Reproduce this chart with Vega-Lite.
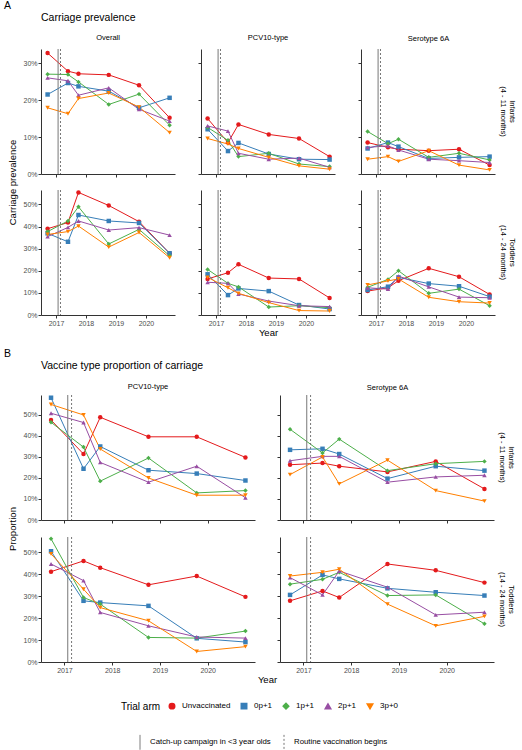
{
"$schema":"https://vega.github.io/schema/vega-lite/v6.json",
"background":"white",
"padding":{"left":3,"top":1,"right":2,"bottom":2},
"datasets":{
"ev":[{"ev":"Catch-up campaign in <3 year olds","t":2017.07},{"ev":"Routine vaccination begins","t":2017.15}],
"prev":[
{"p":"O","a":"I","g":"Unvaccinated","t":2016.72,"v":32.7},{"p":"O","a":"I","g":"Unvaccinated","t":2017.4,"v":27.8},{"p":"O","a":"I","g":"Unvaccinated","t":2017.75,"v":27.1},{"p":"O","a":"I","g":"Unvaccinated","t":2018.76,"v":26.8},{"p":"O","a":"I","g":"Unvaccinated","t":2019.77,"v":24.0},{"p":"O","a":"I","g":"Unvaccinated","t":2020.79,"v":15.2},
{"p":"O","a":"I","g":"0p+1","t":2016.72,"v":21.5},{"p":"O","a":"I","g":"0p+1","t":2017.4,"v":24.6},{"p":"O","a":"I","g":"0p+1","t":2017.75,"v":23.7},{"p":"O","a":"I","g":"0p+1","t":2018.76,"v":22.4},{"p":"O","a":"I","g":"0p+1","t":2019.77,"v":17.9},{"p":"O","a":"I","g":"0p+1","t":2020.79,"v":20.6},
{"p":"O","a":"I","g":"1p+1","t":2016.72,"v":27.0},{"p":"O","a":"I","g":"1p+1","t":2017.4,"v":26.9},{"p":"O","a":"I","g":"1p+1","t":2017.75,"v":24.9},{"p":"O","a":"I","g":"1p+1","t":2018.76,"v":18.8},{"p":"O","a":"I","g":"1p+1","t":2019.77,"v":21.6},{"p":"O","a":"I","g":"1p+1","t":2020.79,"v":13.2},
{"p":"O","a":"I","g":"2p+1","t":2016.72,"v":26.0},{"p":"O","a":"I","g":"2p+1","t":2017.4,"v":25.2},{"p":"O","a":"I","g":"2p+1","t":2017.75,"v":21.3},{"p":"O","a":"I","g":"2p+1","t":2018.76,"v":23.3},{"p":"O","a":"I","g":"2p+1","t":2019.77,"v":17.5},{"p":"O","a":"I","g":"2p+1","t":2020.79,"v":14.3},
{"p":"O","a":"I","g":"3p+0","t":2016.72,"v":17.9},{"p":"O","a":"I","g":"3p+0","t":2017.4,"v":16.3},{"p":"O","a":"I","g":"3p+0","t":2017.75,"v":20.4},{"p":"O","a":"I","g":"3p+0","t":2018.76,"v":21.9},{"p":"O","a":"I","g":"3p+0","t":2019.77,"v":18.1},{"p":"O","a":"I","g":"3p+0","t":2020.79,"v":11.2},
{"p":"P","a":"I","g":"Unvaccinated","t":2016.72,"v":15.0},{"p":"P","a":"I","g":"Unvaccinated","t":2017.4,"v":8.5},{"p":"P","a":"I","g":"Unvaccinated","t":2017.75,"v":13.4},{"p":"P","a":"I","g":"Unvaccinated","t":2018.76,"v":10.7},{"p":"P","a":"I","g":"Unvaccinated","t":2019.77,"v":9.6},{"p":"P","a":"I","g":"Unvaccinated","t":2020.79,"v":4.7},
{"p":"P","a":"I","g":"0p+1","t":2016.72,"v":12.1},{"p":"P","a":"I","g":"0p+1","t":2017.4,"v":6.2},{"p":"P","a":"I","g":"0p+1","t":2017.75,"v":8.4},{"p":"P","a":"I","g":"0p+1","t":2018.76,"v":5.4},{"p":"P","a":"I","g":"0p+1","t":2019.77,"v":4.0},{"p":"P","a":"I","g":"0p+1","t":2020.79,"v":3.9},
{"p":"P","a":"I","g":"1p+1","t":2016.72,"v":12.6},{"p":"P","a":"I","g":"1p+1","t":2017.4,"v":9.1},{"p":"P","a":"I","g":"1p+1","t":2017.75,"v":4.7},{"p":"P","a":"I","g":"1p+1","t":2018.76,"v":5.6},{"p":"P","a":"I","g":"1p+1","t":2019.77,"v":2.7},{"p":"P","a":"I","g":"1p+1","t":2020.79,"v":2.0},
{"p":"P","a":"I","g":"2p+1","t":2016.72,"v":13.0},{"p":"P","a":"I","g":"2p+1","t":2017.4,"v":11.6},{"p":"P","a":"I","g":"2p+1","t":2017.75,"v":5.6},{"p":"P","a":"I","g":"2p+1","t":2018.76,"v":4.0},{"p":"P","a":"I","g":"2p+1","t":2019.77,"v":4.3},{"p":"P","a":"I","g":"2p+1","t":2020.79,"v":1.8},
{"p":"P","a":"I","g":"3p+0","t":2016.72,"v":9.6},{"p":"P","a":"I","g":"3p+0","t":2017.4,"v":8.1},{"p":"P","a":"I","g":"3p+0","t":2017.75,"v":6.9},{"p":"P","a":"I","g":"3p+0","t":2018.76,"v":4.5},{"p":"P","a":"I","g":"3p+0","t":2019.77,"v":2.2},{"p":"P","a":"I","g":"3p+0","t":2020.79,"v":1.3},
{"p":"S","a":"I","g":"Unvaccinated","t":2016.72,"v":8.5},{"p":"S","a":"I","g":"Unvaccinated","t":2017.4,"v":7.2},{"p":"S","a":"I","g":"Unvaccinated","t":2017.75,"v":6.7},{"p":"S","a":"I","g":"Unvaccinated","t":2018.76,"v":6.3},{"p":"S","a":"I","g":"Unvaccinated","t":2019.77,"v":6.7},{"p":"S","a":"I","g":"Unvaccinated","t":2020.79,"v":2.4},
{"p":"S","a":"I","g":"0p+1","t":2016.72,"v":6.9},{"p":"S","a":"I","g":"0p+1","t":2017.4,"v":8.5},{"p":"S","a":"I","g":"0p+1","t":2017.75,"v":7.4},{"p":"S","a":"I","g":"0p+1","t":2018.76,"v":4.2},{"p":"S","a":"I","g":"0p+1","t":2019.77,"v":4.5},{"p":"S","a":"I","g":"0p+1","t":2020.79,"v":4.7},
{"p":"S","a":"I","g":"1p+1","t":2016.72,"v":11.5},{"p":"S","a":"I","g":"1p+1","t":2017.4,"v":8.2},{"p":"S","a":"I","g":"1p+1","t":2017.75,"v":9.4},{"p":"S","a":"I","g":"1p+1","t":2018.76,"v":4.5},{"p":"S","a":"I","g":"1p+1","t":2019.77,"v":5.6},{"p":"S","a":"I","g":"1p+1","t":2020.79,"v":3.8},
{"p":"S","a":"I","g":"2p+1","t":2016.72,"v":7.2},{"p":"S","a":"I","g":"2p+1","t":2017.4,"v":7.6},{"p":"S","a":"I","g":"2p+1","t":2017.75,"v":6.5},{"p":"S","a":"I","g":"2p+1","t":2018.76,"v":4.0},{"p":"S","a":"I","g":"2p+1","t":2019.77,"v":3.6},{"p":"S","a":"I","g":"2p+1","t":2020.79,"v":3.1},
{"p":"S","a":"I","g":"3p+0","t":2016.72,"v":4.0},{"p":"S","a":"I","g":"3p+0","t":2017.4,"v":4.7},{"p":"S","a":"I","g":"3p+0","t":2017.75,"v":3.4},{"p":"S","a":"I","g":"3p+0","t":2018.76,"v":6.3},{"p":"S","a":"I","g":"3p+0","t":2019.77,"v":2.4},{"p":"S","a":"I","g":"3p+0","t":2020.79,"v":1.1},
{"p":"O","a":"T","g":"Unvaccinated","t":2016.72,"v":39.0},{"p":"O","a":"T","g":"Unvaccinated","t":2017.4,"v":41.8},{"p":"O","a":"T","g":"Unvaccinated","t":2017.75,"v":55.4},{"p":"O","a":"T","g":"Unvaccinated","t":2018.76,"v":49.5},{"p":"O","a":"T","g":"Unvaccinated","t":2019.77,"v":42.2},{"p":"O","a":"T","g":"Unvaccinated","t":2020.79,"v":27.9},
{"p":"O","a":"T","g":"0p+1","t":2016.72,"v":36.9},{"p":"O","a":"T","g":"0p+1","t":2017.4,"v":33.1},{"p":"O","a":"T","g":"0p+1","t":2017.75,"v":45.2},{"p":"O","a":"T","g":"0p+1","t":2018.76,"v":42.5},{"p":"O","a":"T","g":"0p+1","t":2019.77,"v":41.6},{"p":"O","a":"T","g":"0p+1","t":2020.79,"v":27.9},
{"p":"O","a":"T","g":"1p+1","t":2016.72,"v":37.7},{"p":"O","a":"T","g":"1p+1","t":2017.4,"v":42.5},{"p":"O","a":"T","g":"1p+1","t":2017.75,"v":48.9},{"p":"O","a":"T","g":"1p+1","t":2018.76,"v":32.1},{"p":"O","a":"T","g":"1p+1","t":2019.77,"v":38.7},{"p":"O","a":"T","g":"1p+1","t":2020.79,"v":26.8},
{"p":"O","a":"T","g":"2p+1","t":2016.72,"v":35.4},{"p":"O","a":"T","g":"2p+1","t":2017.4,"v":39.6},{"p":"O","a":"T","g":"2p+1","t":2017.75,"v":42.5},{"p":"O","a":"T","g":"2p+1","t":2018.76,"v":38.4},{"p":"O","a":"T","g":"2p+1","t":2019.77,"v":39.5},{"p":"O","a":"T","g":"2p+1","t":2020.79,"v":36.1},
{"p":"O","a":"T","g":"3p+0","t":2016.72,"v":36.4},{"p":"O","a":"T","g":"3p+0","t":2017.4,"v":37.7},{"p":"O","a":"T","g":"3p+0","t":2017.75,"v":40.2},{"p":"O","a":"T","g":"3p+0","t":2018.76,"v":30.7},{"p":"O","a":"T","g":"3p+0","t":2019.77,"v":37.3},{"p":"O","a":"T","g":"3p+0","t":2020.79,"v":25.9},
{"p":"P","a":"T","g":"Unvaccinated","t":2016.72,"v":16.3},{"p":"P","a":"T","g":"Unvaccinated","t":2017.4,"v":19.1},{"p":"P","a":"T","g":"Unvaccinated","t":2017.75,"v":22.9},{"p":"P","a":"T","g":"Unvaccinated","t":2018.76,"v":16.7},{"p":"P","a":"T","g":"Unvaccinated","t":2019.77,"v":16.3},{"p":"P","a":"T","g":"Unvaccinated","t":2020.79,"v":7.7},
{"p":"P","a":"T","g":"0p+1","t":2016.72,"v":18.4},{"p":"P","a":"T","g":"0p+1","t":2017.4,"v":9.0},{"p":"P","a":"T","g":"0p+1","t":2017.75,"v":12.0},{"p":"P","a":"T","g":"0p+1","t":2018.76,"v":10.8},{"p":"P","a":"T","g":"0p+1","t":2019.77,"v":4.5},{"p":"P","a":"T","g":"0p+1","t":2020.79,"v":2.7},
{"p":"P","a":"T","g":"1p+1","t":2016.72,"v":20.6},{"p":"P","a":"T","g":"1p+1","t":2017.4,"v":14.3},{"p":"P","a":"T","g":"1p+1","t":2017.75,"v":12.7},{"p":"P","a":"T","g":"1p+1","t":2018.76,"v":3.6},{"p":"P","a":"T","g":"1p+1","t":2019.77,"v":4.2},{"p":"P","a":"T","g":"1p+1","t":2020.79,"v":3.3},
{"p":"P","a":"T","g":"2p+1","t":2016.72,"v":14.8},{"p":"P","a":"T","g":"2p+1","t":2017.4,"v":14.3},{"p":"P","a":"T","g":"2p+1","t":2017.75,"v":9.5},{"p":"P","a":"T","g":"2p+1","t":2018.76,"v":6.3},{"p":"P","a":"T","g":"2p+1","t":2019.77,"v":4.2},{"p":"P","a":"T","g":"2p+1","t":2020.79,"v":3.8},
{"p":"P","a":"T","g":"3p+0","t":2016.72,"v":17.0},{"p":"P","a":"T","g":"3p+0","t":2017.4,"v":12.3},{"p":"P","a":"T","g":"3p+0","t":2017.75,"v":9.8},{"p":"P","a":"T","g":"3p+0","t":2018.76,"v":5.6},{"p":"P","a":"T","g":"3p+0","t":2019.77,"v":2.0},{"p":"P","a":"T","g":"3p+0","t":2020.79,"v":1.8},
{"p":"S","a":"T","g":"Unvaccinated","t":2016.72,"v":10.8},{"p":"S","a":"T","g":"Unvaccinated","t":2017.4,"v":12.3},{"p":"S","a":"T","g":"Unvaccinated","t":2017.75,"v":15.5},{"p":"S","a":"T","g":"Unvaccinated","t":2018.76,"v":21.1},{"p":"S","a":"T","g":"Unvaccinated","t":2019.77,"v":17.3},{"p":"S","a":"T","g":"Unvaccinated","t":2020.79,"v":9.3},
{"p":"S","a":"T","g":"0p+1","t":2016.72,"v":11.3},{"p":"S","a":"T","g":"0p+1","t":2017.4,"v":12.8},{"p":"S","a":"T","g":"0p+1","t":2017.75,"v":17.0},{"p":"S","a":"T","g":"0p+1","t":2018.76,"v":14.2},{"p":"S","a":"T","g":"0p+1","t":2019.77,"v":13.0},{"p":"S","a":"T","g":"0p+1","t":2020.79,"v":8.3},
{"p":"S","a":"T","g":"1p+1","t":2016.72,"v":12.5},{"p":"S","a":"T","g":"1p+1","t":2017.4,"v":16.1},{"p":"S","a":"T","g":"1p+1","t":2017.75,"v":20.0},{"p":"S","a":"T","g":"1p+1","t":2018.76,"v":9.8},{"p":"S","a":"T","g":"1p+1","t":2019.77,"v":11.7},{"p":"S","a":"T","g":"1p+1","t":2020.79,"v":4.2},
{"p":"S","a":"T","g":"2p+1","t":2016.72,"v":12.3},{"p":"S","a":"T","g":"2p+1","t":2017.4,"v":11.7},{"p":"S","a":"T","g":"2p+1","t":2017.75,"v":17.6},{"p":"S","a":"T","g":"2p+1","t":2018.76,"v":12.7},{"p":"S","a":"T","g":"2p+1","t":2019.77,"v":8.1},{"p":"S","a":"T","g":"2p+1","t":2020.79,"v":7.8},
{"p":"S","a":"T","g":"3p+0","t":2016.72,"v":13.6},{"p":"S","a":"T","g":"3p+0","t":2017.4,"v":15.4},{"p":"S","a":"T","g":"3p+0","t":2017.75,"v":16.3},{"p":"S","a":"T","g":"3p+0","t":2018.76,"v":8.0},{"p":"S","a":"T","g":"3p+0","t":2019.77,"v":6.0},{"p":"S","a":"T","g":"3p+0","t":2020.79,"v":5.4}
],
"prop":[
{"p":"P","a":"I","g":"Unvaccinated","t":2016.72,"v":47.6},{"p":"P","a":"I","g":"Unvaccinated","t":2017.4,"v":31.4},{"p":"P","a":"I","g":"Unvaccinated","t":2017.75,"v":48.9},{"p":"P","a":"I","g":"Unvaccinated","t":2018.76,"v":39.6},{"p":"P","a":"I","g":"Unvaccinated","t":2019.77,"v":39.6},{"p":"P","a":"I","g":"Unvaccinated","t":2020.79,"v":29.8},
{"p":"P","a":"I","g":"0p+1","t":2016.72,"v":58.2},{"p":"P","a":"I","g":"0p+1","t":2017.4,"v":24.4},{"p":"P","a":"I","g":"0p+1","t":2017.75,"v":35.0},{"p":"P","a":"I","g":"0p+1","t":2018.76,"v":23.7},{"p":"P","a":"I","g":"0p+1","t":2019.77,"v":22.1},{"p":"P","a":"I","g":"0p+1","t":2020.79,"v":18.8},
{"p":"P","a":"I","g":"1p+1","t":2016.72,"v":46.5},{"p":"P","a":"I","g":"1p+1","t":2017.4,"v":34.7},{"p":"P","a":"I","g":"1p+1","t":2017.75,"v":18.5},{"p":"P","a":"I","g":"1p+1","t":2018.76,"v":29.5},{"p":"P","a":"I","g":"1p+1","t":2019.77,"v":12.9},{"p":"P","a":"I","g":"1p+1","t":2020.79,"v":14.0},
{"p":"P","a":"I","g":"2p+1","t":2016.72,"v":50.8},{"p":"P","a":"I","g":"2p+1","t":2017.4,"v":46.4},{"p":"P","a":"I","g":"2p+1","t":2017.75,"v":27.4},{"p":"P","a":"I","g":"2p+1","t":2018.76,"v":18.0},{"p":"P","a":"I","g":"2p+1","t":2019.77,"v":25.6},{"p":"P","a":"I","g":"2p+1","t":2020.79,"v":10.6},
{"p":"P","a":"I","g":"3p+0","t":2016.72,"v":55.0},{"p":"P","a":"I","g":"3p+0","t":2017.4,"v":50.0},{"p":"P","a":"I","g":"3p+0","t":2017.75,"v":33.8},{"p":"P","a":"I","g":"3p+0","t":2018.76,"v":20.0},{"p":"P","a":"I","g":"3p+0","t":2019.77,"v":11.8},{"p":"P","a":"I","g":"3p+0","t":2020.79,"v":11.8},
{"p":"S","a":"I","g":"Unvaccinated","t":2016.72,"v":26.3},{"p":"S","a":"I","g":"Unvaccinated","t":2017.4,"v":27.1},{"p":"S","a":"I","g":"Unvaccinated","t":2017.75,"v":25.6},{"p":"S","a":"I","g":"Unvaccinated","t":2018.76,"v":22.9},{"p":"S","a":"I","g":"Unvaccinated","t":2019.77,"v":27.9},{"p":"S","a":"I","g":"Unvaccinated","t":2020.79,"v":14.8},
{"p":"S","a":"I","g":"0p+1","t":2016.72,"v":33.4},{"p":"S","a":"I","g":"0p+1","t":2017.4,"v":33.9},{"p":"S","a":"I","g":"0p+1","t":2017.75,"v":31.4},{"p":"S","a":"I","g":"0p+1","t":2018.76,"v":19.7},{"p":"S","a":"I","g":"0p+1","t":2019.77,"v":25.6},{"p":"S","a":"I","g":"0p+1","t":2020.79,"v":23.5},
{"p":"S","a":"I","g":"1p+1","t":2016.72,"v":43.2},{"p":"S","a":"I","g":"1p+1","t":2017.4,"v":31.9},{"p":"S","a":"I","g":"1p+1","t":2017.75,"v":38.5},{"p":"S","a":"I","g":"1p+1","t":2018.76,"v":23.5},{"p":"S","a":"I","g":"1p+1","t":2019.77,"v":26.8},{"p":"S","a":"I","g":"1p+1","t":2020.79,"v":27.9},
{"p":"S","a":"I","g":"2p+1","t":2016.72,"v":28.2},{"p":"S","a":"I","g":"2p+1","t":2017.4,"v":30.3},{"p":"S","a":"I","g":"2p+1","t":2017.75,"v":30.3},{"p":"S","a":"I","g":"2p+1","t":2018.76,"v":18.0},{"p":"S","a":"I","g":"2p+1","t":2019.77,"v":20.5},{"p":"S","a":"I","g":"2p+1","t":2020.79,"v":21.3},
{"p":"S","a":"I","g":"3p+0","t":2016.72,"v":21.6},{"p":"S","a":"I","g":"3p+0","t":2017.4,"v":30.0},{"p":"S","a":"I","g":"3p+0","t":2017.75,"v":17.2},{"p":"S","a":"I","g":"3p+0","t":2018.76,"v":28.5},{"p":"S","a":"I","g":"3p+0","t":2019.77,"v":14.0},{"p":"S","a":"I","g":"3p+0","t":2020.79,"v":9.0},
{"p":"P","a":"T","g":"Unvaccinated","t":2016.72,"v":41.2},{"p":"P","a":"T","g":"Unvaccinated","t":2017.4,"v":46.1},{"p":"P","a":"T","g":"Unvaccinated","t":2017.75,"v":43.0},{"p":"P","a":"T","g":"Unvaccinated","t":2018.76,"v":35.2},{"p":"P","a":"T","g":"Unvaccinated","t":2019.77,"v":39.2},{"p":"P","a":"T","g":"Unvaccinated","t":2020.79,"v":29.7},
{"p":"P","a":"T","g":"0p+1","t":2016.72,"v":50.5},{"p":"P","a":"T","g":"0p+1","t":2017.4,"v":27.9},{"p":"P","a":"T","g":"0p+1","t":2017.75,"v":27.1},{"p":"P","a":"T","g":"0p+1","t":2018.76,"v":25.6},{"p":"P","a":"T","g":"0p+1","t":2019.77,"v":10.8},{"p":"P","a":"T","g":"0p+1","t":2020.79,"v":9.1},
{"p":"P","a":"T","g":"1p+1","t":2016.72,"v":56.2},{"p":"P","a":"T","g":"1p+1","t":2017.4,"v":29.4},{"p":"P","a":"T","g":"1p+1","t":2017.75,"v":26.4},{"p":"P","a":"T","g":"1p+1","t":2018.76,"v":11.2},{"p":"P","a":"T","g":"1p+1","t":2019.77,"v":10.9},{"p":"P","a":"T","g":"1p+1","t":2020.79,"v":14.1},
{"p":"P","a":"T","g":"2p+1","t":2016.72,"v":44.7},{"p":"P","a":"T","g":"2p+1","t":2017.4,"v":37.1},{"p":"P","a":"T","g":"2p+1","t":2017.75,"v":22.6},{"p":"P","a":"T","g":"2p+1","t":2018.76,"v":16.5},{"p":"P","a":"T","g":"2p+1","t":2019.77,"v":11.4},{"p":"P","a":"T","g":"2p+1","t":2020.79,"v":10.9},
{"p":"P","a":"T","g":"3p+0","t":2016.72,"v":49.3},{"p":"P","a":"T","g":"3p+0","t":2017.4,"v":33.2},{"p":"P","a":"T","g":"3p+0","t":2017.75,"v":24.8},{"p":"P","a":"T","g":"3p+0","t":2018.76,"v":18.8},{"p":"P","a":"T","g":"3p+0","t":2019.77,"v":4.8},{"p":"P","a":"T","g":"3p+0","t":2020.79,"v":7.0},
{"p":"S","a":"T","g":"Unvaccinated","t":2016.72,"v":27.9},{"p":"S","a":"T","g":"Unvaccinated","t":2017.4,"v":32.4},{"p":"S","a":"T","g":"Unvaccinated","t":2017.75,"v":29.4},{"p":"S","a":"T","g":"Unvaccinated","t":2018.76,"v":44.7},{"p":"S","a":"T","g":"Unvaccinated","t":2019.77,"v":41.8},{"p":"S","a":"T","g":"Unvaccinated","t":2020.79,"v":36.2},
{"p":"S","a":"T","g":"0p+1","t":2016.72,"v":30.6},{"p":"S","a":"T","g":"0p+1","t":2017.4,"v":39.7},{"p":"S","a":"T","g":"0p+1","t":2017.75,"v":37.9},{"p":"S","a":"T","g":"0p+1","t":2018.76,"v":33.6},{"p":"S","a":"T","g":"0p+1","t":2019.77,"v":31.8},{"p":"S","a":"T","g":"0p+1","t":2020.79,"v":30.3},
{"p":"S","a":"T","g":"1p+1","t":2016.72,"v":35.5},{"p":"S","a":"T","g":"1p+1","t":2017.4,"v":37.7},{"p":"S","a":"T","g":"1p+1","t":2017.75,"v":40.9},{"p":"S","a":"T","g":"1p+1","t":2018.76,"v":30.3},{"p":"S","a":"T","g":"1p+1","t":2019.77,"v":30.6},{"p":"S","a":"T","g":"1p+1","t":2020.79,"v":17.4},
{"p":"S","a":"T","g":"2p+1","t":2016.72,"v":38.5},{"p":"S","a":"T","g":"2p+1","t":2017.4,"v":30.6},{"p":"S","a":"T","g":"2p+1","t":2017.75,"v":41.5},{"p":"S","a":"T","g":"2p+1","t":2018.76,"v":34.1},{"p":"S","a":"T","g":"2p+1","t":2019.77,"v":21.5},{"p":"S","a":"T","g":"2p+1","t":2020.79,"v":22.7},
{"p":"S","a":"T","g":"3p+0","t":2016.72,"v":39.2},{"p":"S","a":"T","g":"3p+0","t":2017.4,"v":40.9},{"p":"S","a":"T","g":"3p+0","t":2017.75,"v":42.3},{"p":"S","a":"T","g":"3p+0","t":2018.76,"v":26.4},{"p":"S","a":"T","g":"3p+0","t":2019.77,"v":16.5},{"p":"S","a":"T","g":"3p+0","t":2020.79,"v":20.8}
]
},
"spacing":12,
"vconcat":[
{"title":{"text":"A","anchor":"start","frame":"bounds","offset":1,"dx":-4},
 "vconcat":[
 {"title":{"text":"Carriage prevalence","anchor":"start","frame":"group","offset":11},
  "bounds":"flush","columns":3,"spacing":{"row":16,"column":26},
  "concat":[
   {"width":134,"height":125,"title":{"text":"Overall","anchor":"middle","fontSize":7.5,"offset":7},
    "encoding":{"x":{"field":"t","type":"quantitative","scale":{"domain":[2016.5,2020.97],"nice":false,"zero":false},"axis":{"values":[2017,2018,2019,2020],"labels":false,"title":null}}},
    "layer":[
     {"data":{"name":"prev"},"transform":[{"filter":"datum.p=='O'&&datum.a=='I'"}],
      "encoding":{"y":{"field":"v","type":"quantitative","scale":{"domain":[0,33.8],"nice":false},"axis":{"values":[0,10,20,30],"labelExpr":"datum.value+'%'","title":"Carriage prevalence","titleY":133}},
       "color":{"field":"g","type":"nominal","scale":{"domain":["Unvaccinated","0p+1","1p+1","2p+1","3p+0"],"range":["#E41A1C","#377EB8","#4DAF4A","#984EA3","#FF7F00"]},"legend":{"title":"Trial arm","titlePadding":7,"labelOffset":6,"columnPadding":7,"symbolSize":30,"labelFontSize":8}}},
      "layer":[{"mark":{"type":"line","strokeWidth":1},"encoding":{}},{"mark":{"type":"point","filled":true,"size":20,"opacity":1},"encoding":{"shape":{"field":"g","type":"nominal","scale":{"domain":["Unvaccinated","0p+1","1p+1","2p+1","3p+0"],"range":["circle","square","diamond","triangle-up","triangle-down"]},"legend":{"title":"Trial arm","titlePadding":7,"labelOffset":6,"columnPadding":7,"symbolSize":30,"labelFontSize":8}}}}]},
     {"data":{"name":"ev"},"mark":{"type":"rule","color":"#777777","strokeWidth":1},"encoding":{"strokeDash":{"field":"ev","type":"nominal","scale":{"domain":["Catch-up campaign in <3 year olds","Routine vaccination begins"],"range":[[1,0],[2,2]]},"legend":{"title":null,"symbolType":"M0,-1L0,1","symbolSize":220,"symbolStrokeColor":"#555555","symbolStrokeWidth":1,"columnPadding":5,"labelFontSize":7.8,"labelOffset":2}}}}
    ]},
   {"width":134,"height":125,"title":{"text":"PCV10-type","anchor":"middle","fontSize":7.5,"offset":7},
    "encoding":{"x":{"field":"t","type":"quantitative","scale":{"domain":[2016.5,2020.97],"nice":false,"zero":false},"axis":{"values":[2017,2018,2019,2020],"labels":false,"title":null}}},
    "layer":[
     {"data":{"name":"prev"},"transform":[{"filter":"datum.p=='P'&&datum.a=='I'"}],
      "encoding":{"y":{"field":"v","type":"quantitative","scale":{"domain":[0,33.8],"nice":false},"axis":{"values":[0,10,20,30],"labels":false,"title":null}},"color":{"field":"g","type":"nominal"}},
      "layer":[{"mark":{"type":"line","strokeWidth":1},"encoding":{}},{"mark":{"type":"point","filled":true,"size":20,"opacity":1},"encoding":{"shape":{"field":"g","type":"nominal"}}}]},
     {"data":{"name":"ev"},"mark":{"type":"rule","color":"#777777","strokeWidth":1},"encoding":{"strokeDash":{"field":"ev","type":"nominal"}}}
    ]},
   {"width":134,"height":125,"title":{"text":["Infants","(4 - 11 months)"],"orient":"right","anchor":"middle","frame":"group","fontSize":7.5,"offset":4,"lineHeight":9},
    "resolve":{"axis":{"x":"independent"}},
    "layer":[
     {"data":{"name":"prev"},"transform":[{"filter":"datum.p=='S'&&datum.a=='I'"}],
      "encoding":{"x":{"field":"t","type":"quantitative","scale":{"domain":[2016.5,2020.97],"nice":false,"zero":false},"axis":{"values":[2017,2018,2019,2020],"labels":false,"title":null}},
       "y":{"field":"v","type":"quantitative","scale":{"domain":[0,33.8],"nice":false},"axis":{"values":[0,10,20,30],"labels":false,"title":null}},"color":{"field":"g","type":"nominal"}},
      "layer":[{"mark":{"type":"line","strokeWidth":1},"encoding":{}},{"mark":{"type":"point","filled":true,"size":20,"opacity":1},"encoding":{"shape":{"field":"g","type":"nominal"}}}]},
     {"data":{"name":"ev"},"mark":{"type":"rule","color":"#777777","strokeWidth":1},"encoding":{"x":{"field":"t","type":"quantitative","axis":{"orient":"top","title":"Serotype 6A","domain":false,"ticks":false,"labels":false,"titleFontSize":7.5,"titlePadding":7}},"strokeDash":{"field":"ev","type":"nominal"}}}
    ]},
   {"width":134,"height":125,
    "encoding":{"x":{"field":"t","type":"quantitative","scale":{"domain":[2016.5,2020.97],"nice":false,"zero":false},"axis":{"values":[2017,2018,2019,2020],"format":"d","title":null}}},
    "layer":[
     {"data":{"name":"prev"},"transform":[{"filter":"datum.p=='O'&&datum.a=='T'"}],
      "encoding":{"y":{"field":"v","type":"quantitative","scale":{"domain":[0,56.5],"nice":false},"axis":{"values":[0,10,20,30,40,50],"labelExpr":"datum.value+'%'","title":null}},"color":{"field":"g","type":"nominal"}},
      "layer":[{"mark":{"type":"line","strokeWidth":1},"encoding":{}},{"mark":{"type":"point","filled":true,"size":20,"opacity":1},"encoding":{"shape":{"field":"g","type":"nominal"}}}]},
     {"data":{"name":"ev"},"mark":{"type":"rule","color":"#777777","strokeWidth":1},"encoding":{"strokeDash":{"field":"ev","type":"nominal"}}}
    ]},
   {"width":134,"height":125,
    "encoding":{"x":{"field":"t","type":"quantitative","scale":{"domain":[2016.5,2020.97],"nice":false,"zero":false},"axis":{"values":[2017,2018,2019,2020],"format":"d","title":"Year"}}},
    "layer":[
     {"data":{"name":"prev"},"transform":[{"filter":"datum.p=='P'&&datum.a=='T'"}],
      "encoding":{"y":{"field":"v","type":"quantitative","scale":{"domain":[0,56.5],"nice":false},"axis":{"values":[0,10,20,30,40,50],"labels":false,"title":null}},"color":{"field":"g","type":"nominal"}},
      "layer":[{"mark":{"type":"line","strokeWidth":1},"encoding":{}},{"mark":{"type":"point","filled":true,"size":20,"opacity":1},"encoding":{"shape":{"field":"g","type":"nominal"}}}]},
     {"data":{"name":"ev"},"mark":{"type":"rule","color":"#777777","strokeWidth":1},"encoding":{"strokeDash":{"field":"ev","type":"nominal"}}}
    ]},
   {"width":134,"height":125,"title":{"text":["Toddlers","(14 - 24 months)"],"orient":"right","anchor":"middle","frame":"group","fontSize":7.5,"offset":4,"lineHeight":9},
    "encoding":{"x":{"field":"t","type":"quantitative","scale":{"domain":[2016.5,2020.97],"nice":false,"zero":false},"axis":{"values":[2017,2018,2019,2020],"format":"d","title":null}}},
    "layer":[
     {"data":{"name":"prev"},"transform":[{"filter":"datum.p=='S'&&datum.a=='T'"}],
      "encoding":{"y":{"field":"v","type":"quantitative","scale":{"domain":[0,56.5],"nice":false},"axis":{"values":[0,10,20,30,40,50],"labels":false,"title":null}},"color":{"field":"g","type":"nominal"}},
      "layer":[{"mark":{"type":"line","strokeWidth":1},"encoding":{}},{"mark":{"type":"point","filled":true,"size":20,"opacity":1},"encoding":{"shape":{"field":"g","type":"nominal"}}}]},
     {"data":{"name":"ev"},"mark":{"type":"rule","color":"#777777","strokeWidth":1},"encoding":{"strokeDash":{"field":"ev","type":"nominal"}}}
    ]}
  ]}
 ]},
{"title":{"text":"B","anchor":"start","frame":"bounds","offset":1,"dx":-4},
 "vconcat":[
 {"title":{"text":"Vaccine type proportion of carriage","anchor":"start","frame":"group","offset":12},
  "bounds":"flush","columns":2,"spacing":{"row":17,"column":25},
  "concat":[
   {"width":214,"height":125,"title":{"text":"PCV10-type","anchor":"middle","fontSize":7.5,"offset":4},
    "encoding":{"x":{"field":"t","type":"quantitative","scale":{"domain":[2016.51,2020.99],"nice":false,"zero":false},"axis":{"values":[2017,2018,2019,2020],"labels":false,"title":null}}},
    "layer":[
     {"data":{"name":"prop"},"transform":[{"filter":"datum.p=='P'&&datum.a=='I'"}],
      "encoding":{"y":{"field":"v","type":"quantitative","scale":{"domain":[0,59.5],"nice":false},"axis":{"values":[0,10,20,30,40,50],"labelExpr":"datum.value+'%'","title":"Proportion","titleY":133.5}},"color":{"field":"g","type":"nominal"}},
      "layer":[{"mark":{"type":"line","strokeWidth":1},"encoding":{}},{"mark":{"type":"point","filled":true,"size":20,"opacity":1},"encoding":{"shape":{"field":"g","type":"nominal"}}}]},
     {"data":{"name":"ev"},"mark":{"type":"rule","color":"#777777","strokeWidth":1},"encoding":{"strokeDash":{"field":"ev","type":"nominal"}}}
    ]},
   {"width":214,"height":125,"title":{"text":["Infants","(4 - 11 months)"],"orient":"right","anchor":"middle","frame":"group","fontSize":7.5,"offset":4,"lineHeight":9},
    "resolve":{"axis":{"x":"independent"}},
    "layer":[
     {"data":{"name":"prop"},"transform":[{"filter":"datum.p=='S'&&datum.a=='I'"}],
      "encoding":{"x":{"field":"t","type":"quantitative","scale":{"domain":[2016.51,2020.99],"nice":false,"zero":false},"axis":{"values":[2017,2018,2019,2020],"labels":false,"title":null}},
       "y":{"field":"v","type":"quantitative","scale":{"domain":[0,59.5],"nice":false},"axis":{"values":[0,10,20,30,40,50],"labels":false,"title":null}},"color":{"field":"g","type":"nominal"}},
      "layer":[{"mark":{"type":"line","strokeWidth":1},"encoding":{}},{"mark":{"type":"point","filled":true,"size":20,"opacity":1},"encoding":{"shape":{"field":"g","type":"nominal"}}}]},
     {"data":{"name":"ev"},"mark":{"type":"rule","color":"#777777","strokeWidth":1},"encoding":{"x":{"field":"t","type":"quantitative","axis":{"orient":"top","title":"Serotype 6A","domain":false,"ticks":false,"labels":false,"titleFontSize":7.5,"titlePadding":4}},"strokeDash":{"field":"ev","type":"nominal"}}}
    ]},
   {"width":214,"height":125,
    "encoding":{"x":{"field":"t","type":"quantitative","scale":{"domain":[2016.51,2020.99],"nice":false,"zero":false},"axis":{"values":[2017,2018,2019,2020],"format":"d","title":"Year","titleX":226}}},
    "layer":[
     {"data":{"name":"prop"},"transform":[{"filter":"datum.p=='P'&&datum.a=='T'"}],
      "encoding":{"y":{"field":"v","type":"quantitative","scale":{"domain":[0,57],"nice":false},"axis":{"values":[0,10,20,30,40,50],"labelExpr":"datum.value+'%'","title":null}},"color":{"field":"g","type":"nominal"}},
      "layer":[{"mark":{"type":"line","strokeWidth":1},"encoding":{}},{"mark":{"type":"point","filled":true,"size":20,"opacity":1},"encoding":{"shape":{"field":"g","type":"nominal"}}}]},
     {"data":{"name":"ev"},"mark":{"type":"rule","color":"#777777","strokeWidth":1},"encoding":{"strokeDash":{"field":"ev","type":"nominal"}}}
    ]},
   {"width":214,"height":125,"title":{"text":["Toddlers","(14 - 24 months)"],"orient":"right","anchor":"middle","frame":"group","fontSize":7.5,"offset":4,"lineHeight":9},
    "encoding":{"x":{"field":"t","type":"quantitative","scale":{"domain":[2016.51,2020.99],"nice":false,"zero":false},"axis":{"values":[2017,2018,2019,2020],"format":"d","title":null}}},
    "layer":[
     {"data":{"name":"prop"},"transform":[{"filter":"datum.p=='S'&&datum.a=='T'"}],
      "encoding":{"y":{"field":"v","type":"quantitative","scale":{"domain":[0,57],"nice":false},"axis":{"values":[0,10,20,30,40,50],"labels":false,"title":null}},"color":{"field":"g","type":"nominal"}},
      "layer":[{"mark":{"type":"line","strokeWidth":1},"encoding":{}},{"mark":{"type":"point","filled":true,"size":20,"opacity":1},"encoding":{"shape":{"field":"g","type":"nominal"}}}]},
     {"data":{"name":"ev"},"mark":{"type":"rule","color":"#777777","strokeWidth":1},"encoding":{"strokeDash":{"field":"ev","type":"nominal"}}}
    ]}
  ]}
 ]}
],
"config":{
 "font":"Liberation Sans",
 "view":{"stroke":null},
 "axis":{"grid":false,"domainColor":"#333333","tickColor":"#333333","labelColor":"#4d4d4d","labelFontSize":7,"titleFontSize":9.5,"titleFontWeight":"normal","titleColor":"#000000","tickSize":3,"labelPadding":1,"titlePadding":1},
 "axisY":{"titlePadding":5},
 "title":{"anchor":"start","fontSize":10.5,"fontWeight":"normal","color":"#000000"},
 "legend":{"orient":"bottom","direction":"horizontal","titleOrient":"left","labelFontSize":8,"titleFontSize":10,"titleFontWeight":"normal","labelColor":"#000000","layout":{"bottom":{"anchor":"middle","direction":"vertical","center":true,"margin":22}}}
}
}
